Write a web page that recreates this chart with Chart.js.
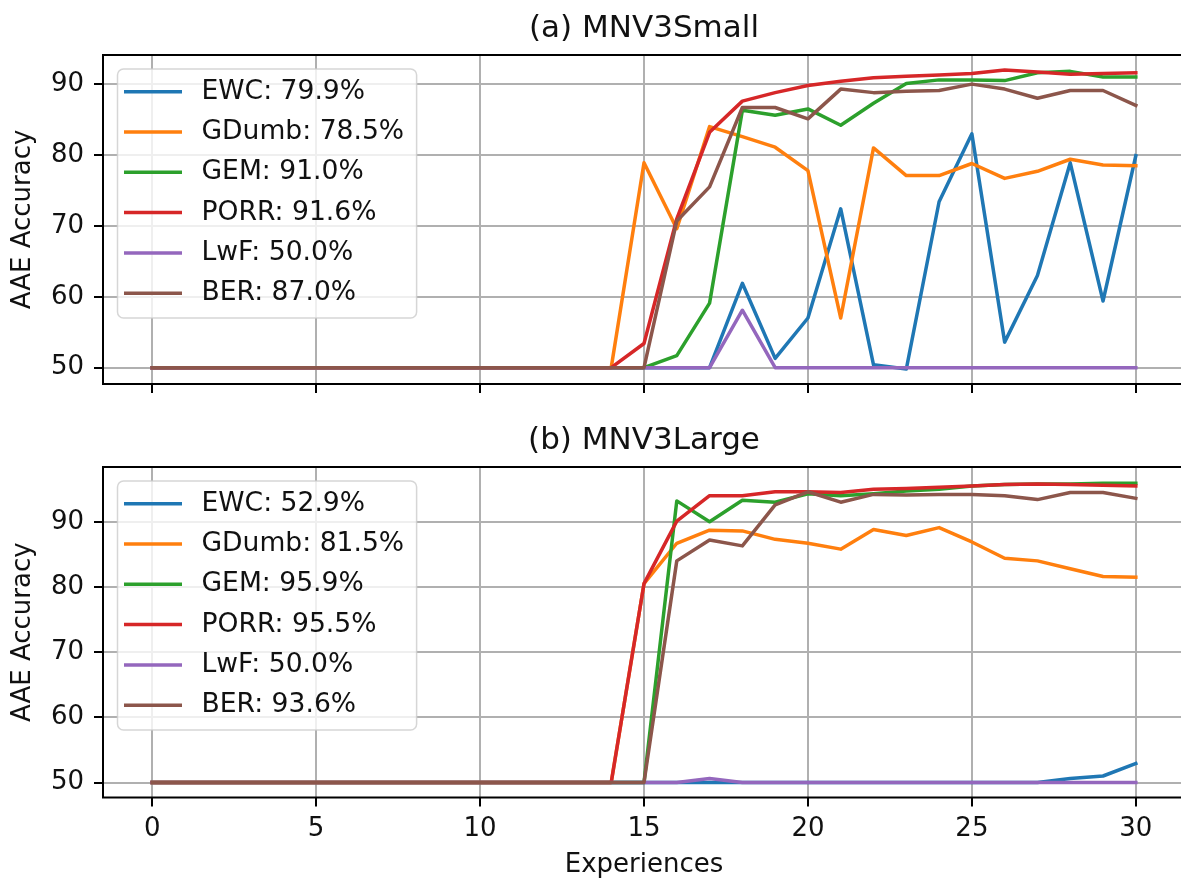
<!DOCTYPE html>
<html><head><meta charset="utf-8">
<script src="https://cdn.jsdelivr.net/npm/chart.js@4.4.1/dist/chart.umd.min.js"></script>
<style>
html,body{margin:0;padding:0;background:#fff;overflow:hidden;width:1181px;height:878px;}
canvas{position:absolute;left:0;display:block;}
#c1{top:0;}
#c2{top:420px;}
</style></head><body>
<canvas id="c1" width="1200" height="420"></canvas>
<canvas id="c2" width="1200" height="458"></canvas>
<script>
// ---------- data ----------
const experiences = [0,1,2,3,4,5,6,7,8,9,10,11,12,13,14,15,16,17,18,19,20,21,22,23,24,25,26,27,28,29,30];
const xTicks = [0,5,10,15,20,25,30];
const yTicks = [50,60,70,80,90];
const methods = ['EWC','GDumb','GEM','PORR','LwF','BER'];
const colors = ['#1f77b4','#ff7f0e','#2ca02c','#d62728','#9467bd','#8c564b'];

// (a) MNV3Small
const smallEWC   = [50,50,50,50,50,50,50,50,50,50,50,50,50,50,50,50,50,50,61.9,51.3,57.0,72.4,50.4,49.8,73.4,83.0,53.6,63.0,78.9,59.4,79.9];
const smallGDumb = [50,50,50,50,50,50,50,50,50,50,50,50,50,50,50,78.9,69.6,84.0,82.6,81.1,77.8,57.0,81.0,77.1,77.1,78.8,76.7,77.7,79.4,78.6,78.5];
const smallGEM   = [50,50,50,50,50,50,50,50,50,50,50,50,50,50,50,50,51.7,59.1,86.3,85.6,86.5,84.2,87.3,90.1,90.6,90.6,90.5,91.6,91.8,91.0,91.0];
const smallPORR  = [50,50,50,50,50,50,50,50,50,50,50,50,50,50,50,53.4,71.0,83.2,87.6,88.8,89.8,90.4,90.9,91.1,91.3,91.5,92.0,91.7,91.4,91.5,91.6];
const smallLwF   = [50,50,50,50,50,50,50,50,50,50,50,50,50,50,50,50,50,50,58.1,50,50,50,50,50,50,50,50,50,50,50,50];
const smallBER   = [50,50,50,50,50,50,50,50,50,50,50,50,50,50,50,50,70.7,75.5,86.7,86.7,85.1,89.3,88.8,89.0,89.1,90.0,89.3,88.0,89.1,89.1,87.0];
const smallFinal = ['79.9','78.5','91.0','91.6','50.0','87.0'];

// (b) MNV3Large
const largeEWC   = [50,50,50,50,50,50,50,50,50,50,50,50,50,50,50,50,50,50,50,50,50,50,50,50,50,50,50,50,50.6,51.0,52.9];
const largeGDumb = [50,50,50,50,50,50,50,50,50,50,50,50,50,50,50,80.5,86.7,88.7,88.6,87.3,86.7,85.8,88.8,87.9,89.1,86.9,84.4,84.0,82.8,81.6,81.5];
const largeGEM   = [50,50,50,50,50,50,50,50,50,50,50,50,50,50,50,50,93.2,90.0,93.3,93.0,94.3,94.0,94.3,94.7,95.0,95.5,95.7,95.8,95.8,95.9,95.9];
const largePORR  = [50,50,50,50,50,50,50,50,50,50,50,50,50,50,50,80.5,90.1,94.0,94.0,94.6,94.6,94.5,95.0,95.1,95.3,95.5,95.7,95.8,95.7,95.6,95.5];
const largeLwF   = [50,50,50,50,50,50,50,50,50,50,50,50,50,50,50,50,50,50.6,50,50,50,50,50,50,50,50,50,50,50,50,50];
const largeBER   = [50,50,50,50,50,50,50,50,50,50,50,50,50,50,50,50,84.0,87.2,86.3,92.6,94.6,93.0,94.2,94.1,94.2,94.2,94.0,93.4,94.5,94.5,93.6];
const largeFinal = ['52.9','81.5','95.9','95.5','50.0','93.6'];

const titles = ['(a) MNV3Small','(b) MNV3Large'];

// ---------- rendering ----------
const FONT = "'DejaVu Sans', sans-serif";

function makeDatasets(series, finals){
  return series.map((vals,i)=>({
    label: methods[i] + ': ' + finals[i] + '%',
    data: experiences.map((x,j)=>({x:x, y:vals[j]})),
    borderColor: colors[i],
    backgroundColor: colors[i],
    borderWidth: 3.5,
    pointRadius: 0,
    tension: 0,
    fill: false,
    borderJoinStyle: 'round',
    borderCapStyle: 'square',
    order: series.length - 1 - i
  }));
}

function decorPlugin(title){
  return {
    id: 'decor',
    afterDatasetsDraw(chart){
      const ctx = chart.ctx, a = chart.chartArea;
      ctx.save();
      // frame
      ctx.strokeStyle = '#000';
      ctx.lineWidth = 2;
      ctx.strokeRect(a.left, a.top, a.right - a.left, a.bottom - a.top);
      // legend
      ctx.font = '26.6px ' + FONT;
      const ds = chart.data.datasets;
      const maxW = Math.max(...ds.map(d=>ctx.measureText(d.label).width));
      const bx = a.left + 14.5, by = a.top + 14;
      const textX = a.left + 98.5;
      const bw = textX - bx + maxW + 12.5, bh = 249;
      ctx.beginPath();
      if (ctx.roundRect) ctx.roundRect(bx, by, bw, bh, 6); else ctx.rect(bx, by, bw, bh);
      ctx.fillStyle = 'rgba(255,255,255,0.8)';
      ctx.fill();
      ctx.strokeStyle = 'rgba(204,204,204,0.8)';
      ctx.lineWidth = 1.5;
      ctx.stroke();
      ds.forEach((d,i)=>{
        const y = a.top + 36.7 + i*40.3;
        ctx.beginPath();
        ctx.moveTo(a.left + 21, y);
        ctx.lineTo(a.left + 79, y);
        ctx.strokeStyle = d.borderColor;
        ctx.lineWidth = 3.5;
        ctx.stroke();
        ctx.fillStyle = '#111';
        ctx.textAlign = 'left';
        ctx.textBaseline = 'middle';
        ctx.fillText(d.label, textX, y);
      });
      // title
      ctx.font = '31px ' + FONT;
      ctx.fillStyle = '#111';
      ctx.textAlign = 'center';
      ctx.textBaseline = 'alphabetic';
      ctx.fillText(title, (a.left + a.right)/2, a.top - 18);
      ctx.restore();
    }
  };
}

function makeChart(id, series, finals, title, yMin, yMax, isBottom, padTop, padBottom, xH){
  return new Chart(document.getElementById(id), {
    type: 'line',
    data: { datasets: makeDatasets(series, finals) },
    options: {
      responsive: false,
      animation: false,
      layout: { padding: { left: 0, right: 15, top: padTop, bottom: padBottom } },
      plugins: { legend: { display: false }, tooltip: { enabled: false }, title: { display: false } },
      scales: {
        x: {
          type: 'linear',
          min: -1.5, max: 31.5,
          afterBuildTicks: s => { s.ticks = xTicks.map(v=>({value:v})); },
          afterFit: s => { s.height = xH; },
          ticks: { display: isBottom, font: { family: FONT, size: 26 }, color: '#111', padding: 7, maxRotation: 0, autoSkip: false },
          grid: { color: '#b0b0b0', lineWidth: 2, tickColor: '#000', tickWidth: 2, tickLength: 9, drawTicks: true },
          border: { display: false },
          title: { display: isBottom, text: 'Experiences', color: '#111', font: { family: FONT, size: 26, lineHeight: 1 }, padding: { top: 0, bottom: 0 } }
        },
        y: {
          type: 'linear',
          min: yMin, max: yMax,
          afterBuildTicks: s => { s.ticks = yTicks.map(v=>({value:v})); },
          afterFit: s => { s.width = 103; },
          ticks: { font: { family: FONT, size: 26 }, color: '#111', padding: 10 },
          grid: { color: '#b0b0b0', lineWidth: 2, tickColor: '#000', tickWidth: 2, tickLength: 9, drawTicks: true },
          border: { display: false },
          title: { display: true, text: 'AAE Accuracy', color: '#111', font: { family: FONT, size: 26, lineHeight: 1.2 }, padding: { top: 7.4, bottom: 0 } }
        }
      }
    },
    plugins: [decorPlugin(title)]
  });
}

makeChart('c1', [smallEWC, smallGDumb, smallGEM, smallPORR, smallLwF, smallBER], smallFinal, titles[0], 47.69, 94.11, false, 55, 16, 20);
makeChart('c2', [largeEWC, largeGDumb, largeGEM, largePORR, largeLwF, largeBER], largeFinal, titles[1], 47.7, 98.4, true, 47, 0, 80.5);
</script>
</body></html>
